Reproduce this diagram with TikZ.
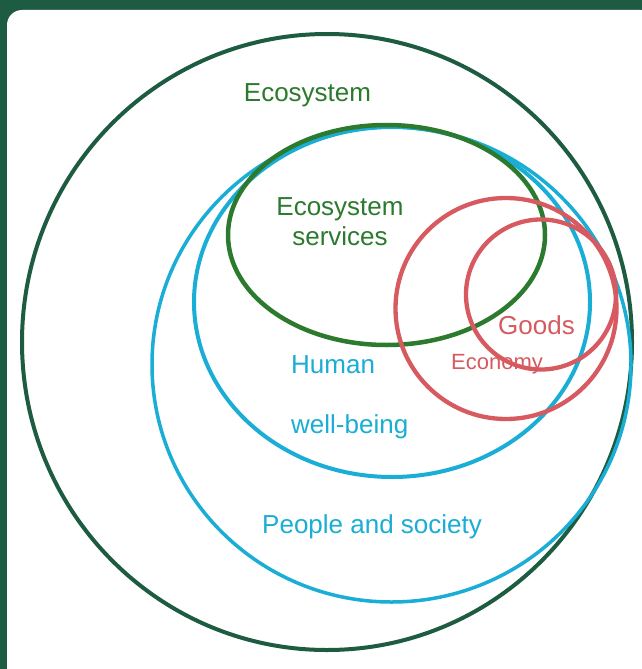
\documentclass[tikz,border=0pt]{standalone}
\usepackage{fontspec}
\setmainfont{Liberation Sans}
\definecolor{frameGreen}{HTML}{1E5B43}
\definecolor{ringGreen}{HTML}{1D5C40}
\definecolor{serviceGreen}{HTML}{2C7A2E}
\definecolor{peopleBlue}{HTML}{1AADD5}
\definecolor{econRed}{HTML}{D65A60}
\tikzset{
  ring/.style={line width=3.5bp},
  label/.style={inner sep=0pt, anchor=base west, font=\fontsize{26bp}{31bp}\selectfont},
}
\begin{document}
\begin{tikzpicture}[x=1bp,y=-1bp]
  \useasboundingbox (0,0) rectangle (642,669);
  % frame and white panel
  \fill[frameGreen] (0,0) rectangle (642,669);
  \begin{scope}
    \clip (0,0) rectangle (642,669);
    \fill[white, rounded corners=15bp] (7,10) rectangle (656,700);
  \end{scope}

  % nested sets
  \draw[ring, ringGreen, line width=4bp] (327,342) ellipse [x radius=305, y radius=308];
  \draw[ring, peopleBlue] (391.5,364.5) ellipse [x radius=239.5, y radius=237.5];
  \draw[ring, peopleBlue, line width=4bp] (392,302) ellipse [x radius=198, y radius=175];
  \draw[ring, serviceGreen, line width=4.5bp] (386.5,235) ellipse [x radius=158.5, y radius=110];
  \draw[ring, econRed, line width=4.3bp] (506,308.5) circle [radius=110.5];
  \draw[ring, econRed, line width=4.3bp] (541,294.5) circle [radius=75];

  % labels
  \node[label, text=serviceGreen, anchor=base] (eco) at (307.5,102) {Ecosystem};
  \node[label, text=serviceGreen, anchor=base] (es1) at (340,215) {Ecosystem};
  \node[label, text=serviceGreen, anchor=base] (es2) at (340,245) {services};
  \node[label, text=peopleBlue] (hum) at (291,373) {Human};
  \node[label, text=peopleBlue] (wb) at (291,433) {well-being};
  \node[label, text=peopleBlue] (ps) at (262,533) {People and society};
  \node[label, text=econRed] (goods) at (498,334) {Goods};
  \node[label, text=econRed, font=\fontsize{22bp}{26bp}\selectfont] (econ) at (451,369) {Economy};
\end{tikzpicture}
\end{document}
